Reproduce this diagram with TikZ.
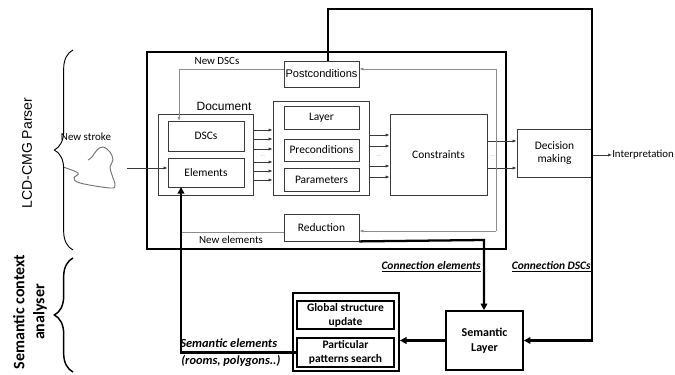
\documentclass[tikz,border=0pt]{standalone}
\usepackage{fontspec}
\setmainfont{Carlito}
\newfontfamily\arialf{Liberation Sans}
\usetikzlibrary{arrows.meta,decorations.pathreplacing}
\definecolor{boxc}{HTML}{3A3A3A}
\definecolor{fbc}{HTML}{8C8C8C}
\tikzset{
  w/.style={minimum width=#1*0.75pt},
  h/.style={minimum height=#1*0.75pt},
  bx/.style={draw=boxc, line width=0.6pt, inner sep=0pt, align=center, font=\fontsize{8.6}{10}\selectfont},
  bbx/.style={draw=black, line width=1.2pt, inner sep=0pt, align=center, font=\fontsize{8.6}{10.5}\selectfont\bfseries},
  arr/.style={draw=boxc, line width=0.5pt, -{Latex[length=3pt,width=2.4pt]}},
  fb/.style={draw=fbc, line width=0.7pt},
  fba/.style={fb, -{Latex[length=3pt,width=2.4pt]}},
  thk/.style={draw=black, line width=1.7pt},
  thka/.style={thk, -{Triangle[length=5pt,width=5pt]}},
  lbl/.style={font=\fontsize{8.2}{9.5}\selectfont, inner sep=0pt},
  bilbl/.style={font=\fontsize{8.6}{10}\selectfont\bfseries\itshape, inner sep=0pt},
  dots/.style={font=\fontsize{4}{4}\selectfont, text=fbc, inner sep=0pt},
}
\begin{document}
\begin{tikzpicture}[x=0.75pt,y=-0.75pt]
\useasboundingbox (0,0) rectangle (675,375);

% outer parser box
\node[draw=black, line width=1.5pt, inner sep=0pt, w=359, h=197] (outer) at (326.5,150.5) {};

% boxes
\node[bx, font=\fontsize{8.3}{9}\arialf, w=75, h=26] (post) at (321.5,74) {Postconditions};
\node[bx, w=95, h=81] (doc) at (205.5,154.5) {};
\node[lbl, font=\fontsize{9}{10}\arialf] (doclbl) at (224,106) {Document};
\node[bx, w=76, h=30] (dscs) at (206,136) {DSCs};
\node[bx, w=76, h=29] (elem) at (206,172.5) {Elements};
\node[bx, w=96, h=94] (mid) at (321,148) {};
\node[bx, w=75, h=23] (layer) at (321.5,117.5) {Layer};
\node[bx, w=75, h=22] (precond) at (321.5,150) {Preconditions};
\node[bx, w=75, h=23] (params) at (321.5,179.5) {Parameters};
\node[bx, w=97, h=81] (constr) at (438.5,154.5) {Constraints};
\node[bx, w=75, h=48] (decision) at (554.5,153) {Decision\\making};
\node[bx, w=75, h=27] (reduction) at (321.5,227.5) {Reduction};

\node[bbx, font=\fontsize{9}{11}\selectfont\bfseries, w=77, h=59] (semlayer) at (484.5,340.5) {Semantic\\Layer};
\node[draw=black, line width=1.3pt, inner sep=0pt, w=106, h=78] (grp) at (346,332) {};
\node[bbx, line width=1.1pt, w=97, h=28] (global) at (345.5,315) {Global structure\\update};
\node[bbx, line width=1.1pt, w=97, h=29] (partic) at (345.5,352.5) {Particular\\patterns search};

% input
\coordinate (in) at (127,168);
\draw[arr] (in) -- (in -| elem.west);
\node[lbl] (ns) at (86,137) {New stroke};
\draw[draw=black!55, line width=0.7pt] plot[smooth, tension=0.6] coordinates {(63,167) (78,173) (74,178) (80,183) (110,188) (115,185) (112,175) (110,167) (113,160) (110,152) (103,147) (97,150) (92,157) (88,160)};

% doc -> mid arrows
\foreach \yy in {130,139,149,162,171,180} \draw[arr] (doc.east |- 0,\yy) -- (mid.west |- 0,\yy);
\node[dots] (d1) at (263,156) {...};
% mid -> constraints
\foreach \yy in {135,146,166,177} \draw[arr] (mid.east |- 0,\yy) -- (constr.west |- 0,\yy);
\node[dots] (d2) at (379,156) {...};
% constraints -> decision
\foreach \yy in {141,168} \draw[arr] (constr.east |- 0,\yy) -- (decision.west |- 0,\yy);
\node[dots] (d3) at (493,156) {...};

% feedback loops (gray)
\coordinate (fbtop) at (496,69);
\coordinate (fbbot) at (496,231);
\draw[fba] (fbbot) -- (fbtop) -- (fbtop -| post.east);
\draw[fba] (fbtop |- 0,231) -- (reduction.east |- 0,231);
\coordinate (dtop) at (179,121);
\draw[fba] (post.west |- 0,69) -| (dtop);
\node[lbl] (newdscs) at (217,61) {New DSCs};
\coordinate (ej) at (181,232);
\draw[fb] (reduction.west |- 0,232) -- (ej);
\node[lbl] (newel) at (231,240) {New elements};

% decision -> interpretation
\node[lbl, font=\fontsize{8.1}{10}\selectfont, anchor=west] (interp) at (612,155) {Interpretation};
\draw[arr] (decision.east |- 0,155) -- (interp.west);

% thick connections
\coordinate (tl) at (328,9);
\coordinate (tr) at (592,9);
\draw[thka] (post.north -| tl) -- (tl) -- (tr) |- (semlayer.east);
\coordinate (rb) at (484,240);
\draw[thka] (reduction.south east) -- (rb) -- (rb |- semlayer.north);
\draw[thka] (semlayer.west) -- (grp.east |- semlayer.west);
\coordinate (eb) at (181,187);
\draw[thka] (partic.west) -| (eb);

% bold italic labels
\node[bilbl, anchor=east] (ce) at (481,267) {\underline{Connection elements}};
\node[bilbl, anchor=east] (cd) at (591,267) {\underline{Connection DSCs}};
\node[bilbl, font=\fontsize{9.3}{10}\selectfont\bfseries\itshape, anchor=west] (se1) at (180,343) {Semantic elements};
\node[bilbl, font=\fontsize{9.3}{10}\selectfont\bfseries\itshape, anchor=west] (se2) at (181,361) {(rooms, polygons..)};

% braces and side labels
\draw[black, line width=0.7pt, decorate, decoration={brace, amplitude=14pt}] (73,250) -- (73,50);
\draw[black, line width=1.1pt, decorate, decoration={brace, amplitude=14pt}] (73,372) -- (73,258);
\node[rotate=90, font=\fontsize{10.5}{12}\arialf, inner sep=0pt] (lcd) at (27,153) {LCD-CMG Parser};
\node[rotate=90, font=\fontsize{12}{15}\selectfont\bfseries, align=center, inner sep=0pt] (sca) at (30,312) {Semantic context\\analyser};
\end{tikzpicture}
\end{document}
